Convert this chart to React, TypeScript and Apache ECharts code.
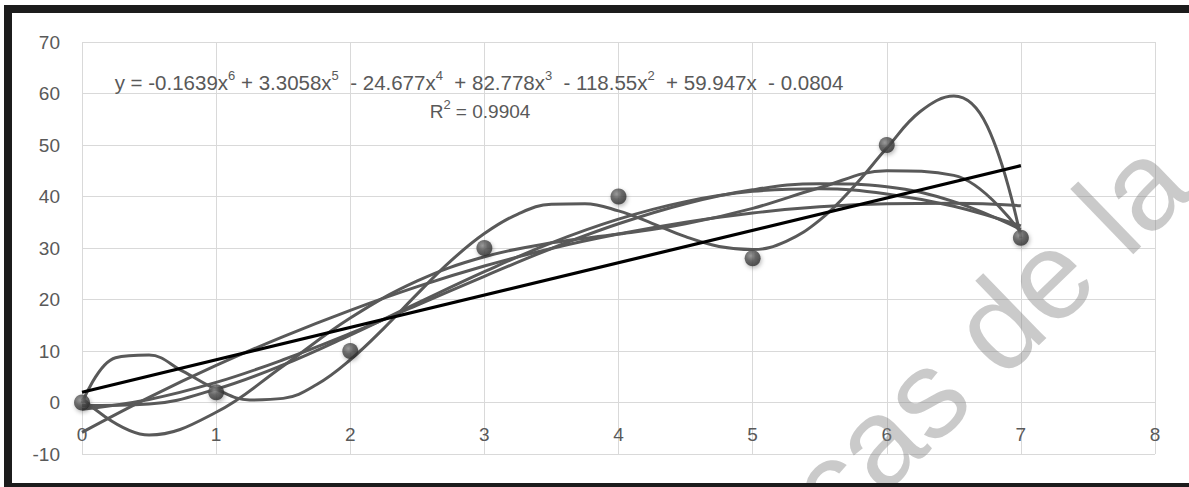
import React, { useEffect, useRef } from "react";
import * as echarts from "echarts";

// Observed data points
const pointX = [0, 1, 2, 3, 4, 5, 6, 7];
const pointY = [0, 2, 10, 30, 40, 28, 50, 32];

const trendX = [0, 0.5, 1, 1.5, 2, 2.5, 3, 3.5, 4, 4.5, 5, 5.5, 6, 6.5, 7];
const poly2Y = [-5.8, 1.0, 7.2, 12.8, 17.9, 22.5, 26.5, 29.9, 32.7, 35.0, 36.8, 38.0, 38.6, 38.7, 38.2];
const poly3Y = [-1.3, 0.6, 3.9, 8.3, 13.4, 18.9, 24.5, 29.9, 34.7, 38.6, 41.3, 42.5, 41.9, 39.0, 33.6];
const poly4Y = [-0.6, -0.3, 2.6, 7.3, 13.1, 19.3, 25.4, 31.0, 35.6, 39.0, 41.0, 41.5, 40.5, 38.1, 34.3];
const poly5Y = [0.8, -6.3, -1.9, 7.1, 16.4, 23.6, 28.3, 31.0, 32.7, 34.7, 37.7, 41.7, 45.0, 44.1, 33.0];

// 6th order trendline, sampled every 0.25
const poly6X = [0, 0.25, 0.5, 0.75, 1, 1.25, 1.5, 1.75, 2, 2.25, 2.5, 2.75, 3, 3.25, 3.5, 3.75, 4, 4.25, 4.5, 4.75, 5, 5.25, 5.5, 5.75, 6, 6.25, 6.5, 6.75, 7];
const poly6Y = [-0.1, 8.7, 9.2, 6.1, 2.6, 0.5, 0.8, 3.5, 8.3, 14.4, 21.1, 27.5, 32.8, 36.6, 38.5, 38.6, 37.2, 34.8, 32.2, 30.3, 29.7, 31.3, 35.4, 41.8, 49.4, 56.5, 59.5, 53.6, 31.9];

// Linear trendline
const linX = [0, 7];
const linY = [2.0, 46.0];

const xTicks = { min: 0, max: 8, interval: 1 };
const yTicks = { min: -10, max: 70, interval: 10 };

const equationText =
  "y = -0.1639x{s|6} + 3.3058x{s|5}  - 24.677x{s|4}  + 82.778x{s|3}  - 118.55x{s|2}  + 59.947x  - 0.0804";
const r2Text = "R{s|2} = 0.9904";
const watermarkText = "cas de la";

const FONT = '"Liberation Sans", Arial, sans-serif';
const GREY = "#595959";

function pairs(xs: number[], ys: number[]) {
  return xs.map((x, i) => [x, ys[i]]);
}

export default function App() {
  const ref = useRef<HTMLDivElement>(null);
  useEffect(() => {
    if (!ref.current) return;
    const chart = echarts.init(ref.current, null, { renderer: "svg" });
    const trendStyle = { color: GREY, width: 3 };
    const curve = (name: string, xs: number[], ys: number[]) => ({
      name,
      type: "line",
      data: pairs(xs, ys),
      smooth: 0.4,
      showSymbol: false,
      symbol: "none",
      lineStyle: trendStyle,
      itemStyle: { color: GREY },
      z: 2,
      silent: true,
    });
    const rich = {
      s: { fontSize: 13, fontFamily: FONT, color: GREY, verticalAlign: "top", lineHeight: 26 },
    };
    chart.setOption({
      animation: false,
      backgroundColor: "#ffffff",
      textStyle: { fontFamily: FONT },
      grid: {
        left: 82,
        top: 42,
        right: 34,
        bottom: 33,
        containLabel: false,
        outerBoundsMode: "none",
      },
      xAxis: {
        type: "value",
        ...xTicks,
        axisLine: { show: false },
        axisTick: { show: false },
        axisLabel: { color: GREY, fontSize: 19, fontFamily: FONT, margin: -29 },
        splitLine: { show: true, lineStyle: { color: "#d9d9d9", width: 1 } },
      },
      yAxis: {
        type: "value",
        ...yTicks,
        axisLine: { show: false },
        axisTick: { show: false },
        axisLabel: { color: GREY, fontSize: 19, fontFamily: FONT, margin: 22 },
        splitLine: { show: true, lineStyle: { color: "#d9d9d9", width: 1 } },
      },
      series: [
        curve("poly2", trendX, poly2Y),
        curve("poly3", trendX, poly3Y),
        curve("poly4", trendX, poly4Y),
        curve("poly5", trendX, poly5Y),
        curve("poly6", poly6X, poly6Y),
        {
          name: "linear",
          type: "line",
          data: pairs(linX, linY),
          showSymbol: false,
          symbol: "none",
          lineStyle: { color: "#000000", width: 3.2 },
          z: 3,
          silent: true,
        },
        {
          name: "data",
          type: "scatter",
          data: pairs(pointX, pointY),
          symbol: "circle",
          symbolSize: 16,
          z: 4,
          itemStyle: {
            color: {
              type: "radial",
              x: 0.38,
              y: 0.35,
              r: 0.7,
              colorStops: [
                { offset: 0, color: "#8c8c8c" },
                { offset: 0.45, color: "#505050" },
                { offset: 1, color: "#2a2a2a" },
              ],
            },
            shadowBlur: 4,
            shadowColor: "rgba(0,0,0,0.35)",
            shadowOffsetX: 1,
            shadowOffsetY: 2,
          },
        },
      ],
      graphic: [
        {
          type: "text",
          x: 479,
          y: 82,
          z: 10,
          style: {
            text: equationText,
            fill: GREY,
            font: `20.5px ${FONT}`,
            rich,
            align: "center",
            verticalAlign: "middle",
            textAlign: "center",
            textVerticalAlign: "middle",
          },
        },
        {
          type: "text",
          x: 480,
          y: 111,
          z: 10,
          style: {
            text: r2Text,
            fill: GREY,
            font: `19px ${FONT}`,
            rich,
            align: "center",
            verticalAlign: "middle",
            textAlign: "center",
            textVerticalAlign: "middle",
          },
        },
        {
          type: "text",
          x: 987,
          y: 335,
          rotation: (44 * Math.PI) / 180,
          z: 20,
          silent: true,
          style: {
            text: watermarkText,
            fill: "rgba(128,128,128,0.42)",
            font: `125px ${FONT}`,
            align: "center",
            verticalAlign: "middle",
            textAlign: "center",
            textVerticalAlign: "middle",
          },
        },
        { type: "rect", shape: { x: 4, y: 5, width: 1185, height: 8 }, style: { fill: "#1c1c1c" }, z: 30 },
        { type: "rect", shape: { x: 4, y: 5, width: 8, height: 482 }, style: { fill: "#1c1c1c" }, z: 30 },
        { type: "rect", shape: { x: 4, y: 483, width: 1185, height: 4 }, style: { fill: "#1c1c1c" }, z: 30 },
      ],
    });
    return () => chart.dispose();
  }, []);
  return (
    <div
      ref={ref}
      style={{ position: "absolute", left: 0, top: 0, width: 1189, height: 487, background: "#fff" }}
    />
  );
}
